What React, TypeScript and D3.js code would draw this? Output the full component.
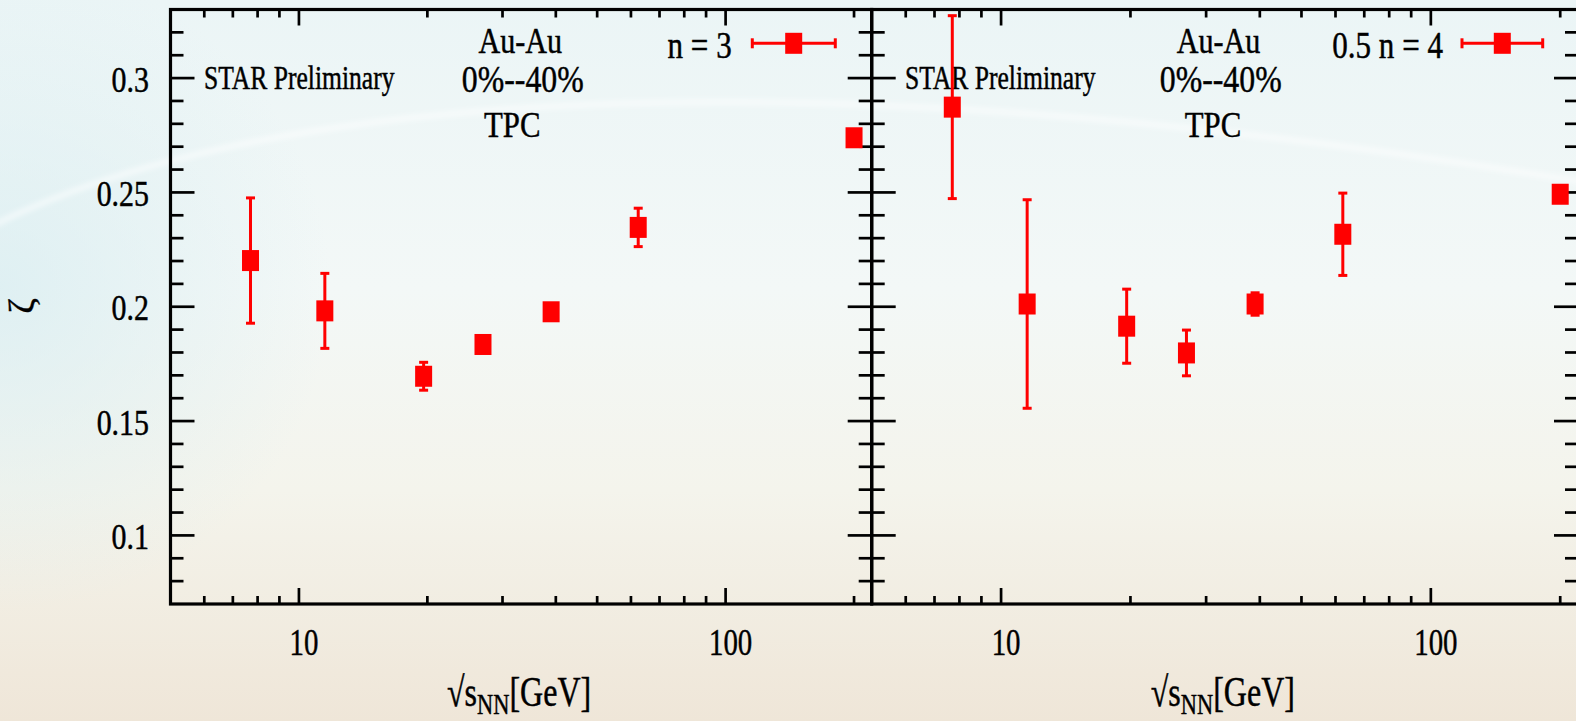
import React, { useEffect } from 'react';
import * as d3 from 'd3';

// ---- data ----
const energies = [7.7, 11.5, 19.6, 27, 39, 62.4, 200];
const zetaN3 = [0.2202, 0.1982, 0.1696, 0.1835, 0.1978, 0.2347, 0.2739];
const errN3 = [0.0274, 0.0164, 0.0061, 0.002, 0.002, 0.0084, 0.002];
const zetaN4 = [0.2873, 0.2012, 0.1915, 0.1798, 0.2012, 0.2317, 0.2492];
const errN4 = [0.04, 0.0456, 0.0162, 0.01, 0.0049, 0.018, 0.002];
const yTickValues = [0.1, 0.15, 0.2, 0.25, 0.3];
const yTickLabels = ['0.1', '0.15', '0.2', '0.25', '0.3'];
const xTickValues = [10, 100];
const xTickLabels = ['10', '100'];
const legendLabels = ['n = 3', '0.5 n = 4'];
const annotLines = ['Au-Au', '0%--40%', 'TPC'];
const starLabel = 'STAR Preliminary';

const W = 1576;
const H = 721;
const FONT = '"Liberation Serif", "Times New Roman", serif';
const RED = '#ff0000';

const yTop = 9.5;
const yBot = 604;
const y = d3.scaleLinear().domain([0.07, 0.33]).range([yBot, yTop]);

type Panel = {
  x0: number;
  x1: number;
  vals: number[];
  errs: number[];
  legend: string;
  legTextX: number;
  legBar: [number, number, number];
  annotX: number[];
  starX: number;
  showYLabels: boolean;
};

const panels: Panel[] = [
  {
    x0: 170.5, x1: 871.7, vals: zetaN3, errs: errN3, legend: legendLabels[0],
    legTextX: 731.7, legBar: [752.3, 835.3, 793.7],
    annotX: [520.3, 522.8, 512.3], starX: 204, showYLabels: true,
  },
  {
    x0: 871.7, x1: 1578, vals: zetaN4, errs: errN4, legend: legendLabels[1],
    legTextX: 1443, legBar: [1462, 1542.7, 1502.3],
    annotX: [1218.5, 1220.7, 1213], starX: 905, showYLabels: false,
  },
];

function T(props: {
  x: number; y: number; size: number; sx?: number; anchor?: string; children: any;
}) {
  const { x, y: yy, size, sx = 1, anchor = 'start', children } = props;
  return (
    <g transform={`translate(${x},${yy}) scale(${sx},1.04)`}>
      <text x={0} y={0} fontFamily={FONT} fontSize={size} textAnchor={anchor} fill="#000"
        stroke="#000" strokeWidth={0.45}>
        {children}
      </text>
    </g>
  );
}

function PanelView({ p }: { p: Panel }) {
  const x = d3.scaleLog().domain([5, 220]).range([p.x0, p.x1]);
  const minorX = x.ticks().filter((t) => t > 5 && t < 220 && !xTickValues.includes(t));
  const minorY = y.ticks(26).filter((t) => t > 0.0705 && t < 0.3295 && !yTickValues.some((v) => Math.abs(v - t) < 1e-6));
  const majL = 24, minL = 13, xMaj = 16, xMin = 8;
  const tickW = 2.7;
  const cap = 4.5;
  return (
    <g>
      {minorX.map((t, i) => (
        <g key={'mx' + i} stroke="#000" strokeWidth={tickW}>
          <line x1={x(t)} x2={x(t)} y1={yBot} y2={yBot - xMin} />
          <line x1={x(t)} x2={x(t)} y1={yTop} y2={yTop + xMin} />
        </g>
      ))}
      {xTickValues.map((t, i) => (
        <g key={'Mx' + i} stroke="#000" strokeWidth={tickW}>
          <line x1={x(t)} x2={x(t)} y1={yBot} y2={yBot - xMaj} />
          <line x1={x(t)} x2={x(t)} y1={yTop} y2={yTop + xMaj} />
        </g>
      ))}
      {minorY.map((t, i) => (
        <g key={'my' + i} stroke="#000" strokeWidth={tickW}>
          <line x1={p.x0} x2={p.x0 + minL} y1={y(t)} y2={y(t)} />
          <line x1={p.x1} x2={p.x1 - minL} y1={y(t)} y2={y(t)} />
        </g>
      ))}
      {yTickValues.map((t, i) => (
        <g key={'My' + i} stroke="#000" strokeWidth={tickW}>
          <line x1={p.x0} x2={p.x0 + majL} y1={y(t)} y2={y(t)} />
          <line x1={p.x1} x2={p.x1 - majL} y1={y(t)} y2={y(t)} />
        </g>
      ))}
      <rect x={p.x0} y={yTop} width={p.x1 - p.x0} height={yBot - yTop} fill="none" stroke="#000" strokeWidth={3.2} />
      {p.showYLabels && yTickValues.map((t, i) => (
        <T key={'yl' + i} x={149} y={y(t) + 13.5} size={34} sx={0.88} anchor="end">{yTickLabels[i]}</T>
      ))}
      {xTickValues.map((t, i) => (
        <T key={'xl' + i} x={x(t) + 5} y={655} size={37} sx={0.78} anchor="middle">{xTickLabels[i]}</T>
      ))}
      <g transform={`translate(${(p.x0 + p.x1) / 2 - 2},706) scale(0.8,1.04)`}>
        <text x={0} y={0} fontFamily={FONT} fontSize={40} textAnchor="middle" fill="#000" stroke="#000" strokeWidth={0.45}>
          √s<tspan fontSize={28} dy={8}>NN</tspan><tspan dy={-8}>[GeV]</tspan>
        </text>
      </g>
      <T x={p.starX} y={89.3} size={32} sx={0.8}>{starLabel}</T>
      <T x={p.annotX[0]} y={53.3} size={35} sx={0.86} anchor="middle">{annotLines[0]}</T>
      <T x={p.annotX[1]} y={91.7} size={37} sx={0.86} anchor="middle">{annotLines[1]}</T>
      <T x={p.annotX[2]} y={136.7} size={35} sx={0.88} anchor="middle">{annotLines[2]}</T>
      <T x={p.legTextX} y={58} size={37} sx={0.84} anchor="end">{p.legend}</T>
      <g stroke={RED} strokeWidth={3}>
        <line x1={p.legBar[0]} x2={p.legBar[1]} y1={43.3} y2={43.3} />
        <line x1={p.legBar[0]} x2={p.legBar[0]} y1={43.3 - 5} y2={43.3 + 5} />
        <line x1={p.legBar[1]} x2={p.legBar[1]} y1={43.3 - 5} y2={43.3 + 5} />
      </g>
      <rect x={p.legBar[2] - 8.5} y={43.3 - 10.5} width={17} height={21} fill={RED} />
      {energies.map((e, i) => {
        const cx = x(e);
        const cy = y(p.vals[i]);
        const yh = y(p.vals[i] + p.errs[i]);
        const yl = y(p.vals[i] - p.errs[i]);
        return (
          <g key={'d' + i}>
            <g stroke={RED} strokeWidth={3}>
              <line x1={cx} x2={cx} y1={yh} y2={yl} />
              <line x1={cx - cap} x2={cx + cap} y1={yh} y2={yh} />
              <line x1={cx - cap} x2={cx + cap} y1={yl} y2={yl} />
            </g>
            <rect x={cx - 8.5} y={cy - 10.5} width={17} height={21} fill={RED} />
          </g>
        );
      })}
    </g>
  );
}

export default function App() {
  useEffect(() => {
    document.body.style.margin = '0';
    document.body.style.overflow = 'hidden';
  }, []);
  return (
    <svg width={W} height={H} style={{ position: 'absolute', left: 0, top: 0, display: 'block' }}>
      <defs>
        <linearGradient id="bgv" x1="0" y1="0" x2="0" y2="1">
          <stop offset="0%" stopColor="#ebf5f6" />
          <stop offset="40%" stopColor="#f3f8f7" />
          <stop offset="68%" stopColor="#f4f4ec" />
          <stop offset="100%" stopColor="#efe6d8" />
        </linearGradient>
        <radialGradient id="bgl" cx="0" cy="0.4" r="0.6" gradientUnits="objectBoundingBox"
          gradientTransform="translate(0,0.4) scale(0.35,0.75) translate(0,-0.4)">
          <stop offset="0%" stopColor="#d8edf1" stopOpacity={0.75} />
          <stop offset="100%" stopColor="#d8edf1" stopOpacity={0} />
        </radialGradient>
        <filter id="blur"><feGaussianBlur stdDeviation="2.5" /></filter>
      </defs>
      <rect x={0} y={0} width={W} height={H} fill="url(#bgv)" />
      <rect x={0} y={0} width={W} height={H} fill="url(#bgl)" />
      <path d="M -20 232 C 250 90, 800 50, 1600 185" fill="none" stroke="#ffffff" strokeOpacity={0.5} strokeWidth={6} filter="url(#blur)" />
      <g transform="translate(34,306) rotate(-90) scale(1.05,1)">
        <text x={0} y={0} fontFamily={FONT} fontSize={36} textAnchor="middle" fill="#000" stroke="#000" strokeWidth={0.4}>ζ</text>
      </g>
      {panels.map((p, i) => <PanelView key={i} p={p} />)}
    </svg>
  );
}
